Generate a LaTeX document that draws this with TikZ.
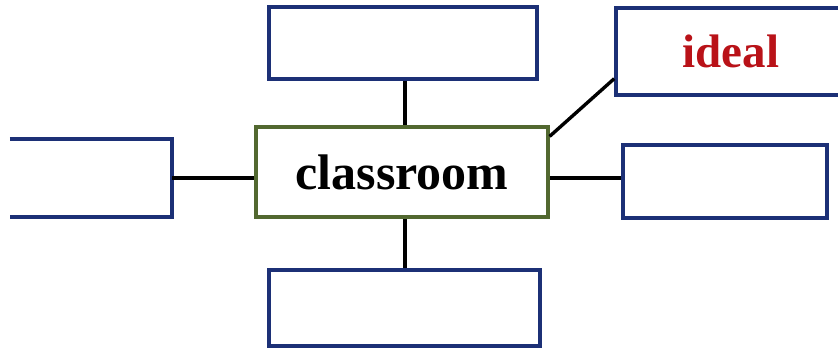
\documentclass[tikz,border=0pt]{standalone}
\usepackage{fontspec}
\setmainfont{Liberation Serif}
\usetikzlibrary{calc}
\definecolor{boxblue}{RGB}{28,48,118}
\definecolor{boxgreen}{RGB}{82,104,48}
\definecolor{idealred}{RGB}{185,18,24}
\begin{document}
\begin{tikzpicture}[x=1pt,y=-1pt,
  bluebox/.style={draw=boxblue,line width=3.6pt,inner sep=0pt},
  openbox/.style={draw=none,inner sep=0pt},
  centerbox/.style={draw=boxgreen,line width=3.2pt,inner sep=0pt,font=\bfseries\fontsize{50}{56}\selectfont},
  conn/.style={line width=3.4pt,black}]
\useasboundingbox (0,0) rectangle (838,351);
\clip (0,0) rectangle (838,351);
\fill[white] (0,0) rectangle (838,351);
% nodes
\node[centerbox,minimum width=292pt,minimum height=90pt] (c) at (402,172) {classroom};
\node[bluebox,minimum width=268pt,minimum height=72pt] (top) at (403,43) {};
\node[bluebox,minimum width=271pt,minimum height=76pt] (bot) at (404.5,308) {};
\node[bluebox,minimum width=204pt,minimum height=73pt] (right) at (725,181.5) {};
\node[bluebox,minimum width=230pt,minimum height=87pt,text=idealred,font=\bfseries\fontsize{47}{52}\selectfont] (ideal) at (731,51.5) {ideal};
\node[openbox,minimum width=162pt,minimum height=78pt] (left) at (91,178) {};
\draw[draw=boxblue,line width=3.6pt] (left.north west) -- (left.north east) -- (left.south east) -- (left.south west);
% connectors
\draw[conn] (top.south -| c.north) ++(3,0) coordinate (t1) -- (t1 |- c.north);
\draw[conn] (bot.north -| c.south) ++(3,0) coordinate (b1) -- (b1 |- c.south);
\draw[conn] (left.east) -- (left.east -| c.west);
\coordinate (r1) at ($(right.west)+(0,-3.5)$);
\draw[conn] (r1) -- (r1 -| c.east);
\coordinate (d1) at ($(c.north east)+(0,11)$);
\coordinate (d2) at ($(ideal.south west)!0.2!(ideal.north west)$);
\draw[conn] (d1) -- (d2);
\end{tikzpicture}
\end{document}
